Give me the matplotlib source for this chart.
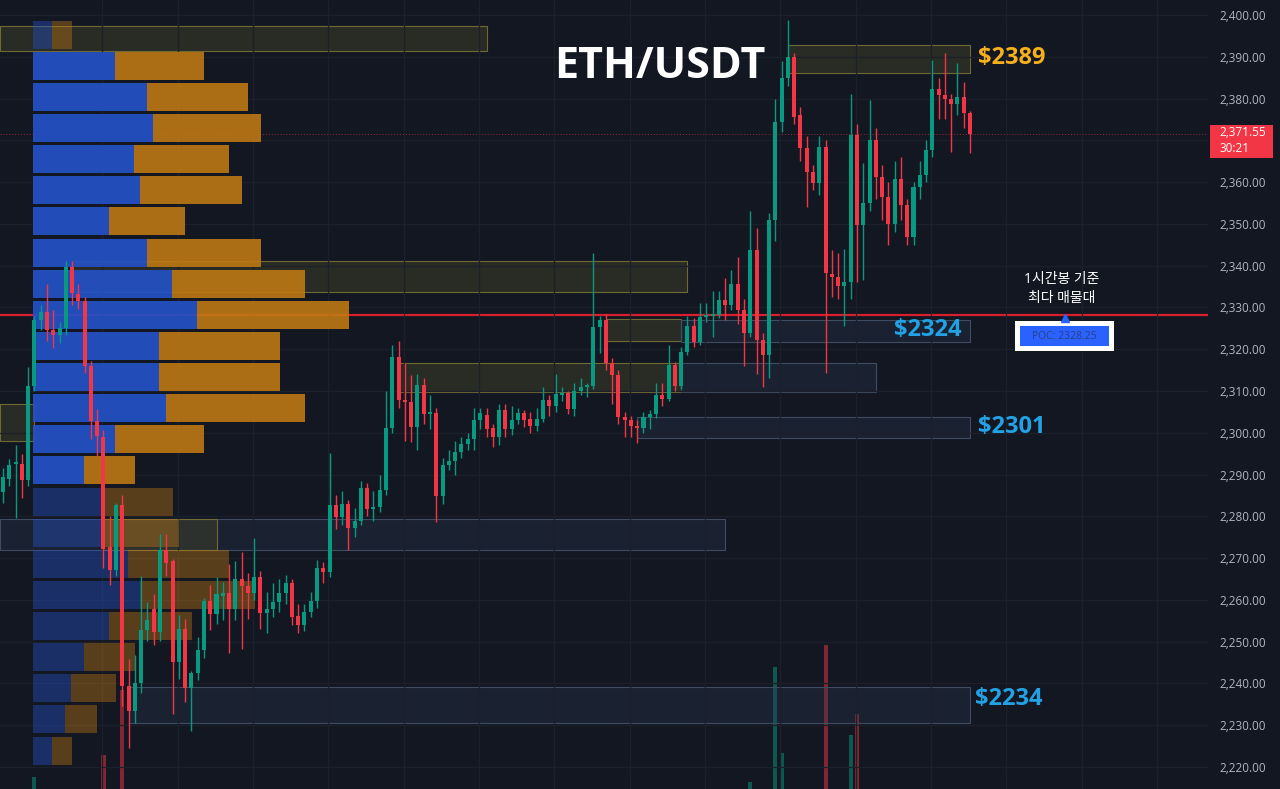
import numpy as np
import matplotlib.pyplot as plt
from matplotlib.patches import Rectangle

plt.rcParams['font.family'] = ['Open Sans', 'Noto Sans CJK KR', 'DejaVu Sans']

# 1h candles, ETH/USDT
opens = [2285.8, 2289.0, 2292.5, 2292.5, 2288.7, 2311.2, 2326.9, 2329.0, 2324.5, 2323.4,
         2325.0, 2339.6, 2333.3, 2331.6, 2315.9, 2302.9, 2299.1, 2272.6, 2267.2, 2282.8,
         2239.3, 2233.4, 2240.0, 2252.9, 2257.9, 2252.4, 2272.0, 2269.2, 2245.1, 2253.0,
         2238.8, 2242.5, 2248.0, 2259.8, 2256.6, 2261.0, 2261.7, 2257.9, 2265.0, 2263.4,
         2261.7, 2265.5, 2256.9, 2257.8, 2259.5, 2261.7, 2264.0, 2256.2, 2254.0, 2257.0,
         2259.7, 2267.6, 2266.7, 2282.7, 2279.8, 2283.0, 2277.2, 2279.0, 2286.8, 2281.8,
         2282.2, 2286.3, 2301.2, 2318.1, 2307.8, 2307.4, 2301.4, 2311.4, 2304.5, 2304.7,
         2284.9, 2292.3, 2293.3, 2295.4, 2297.3, 2298.5, 2303.0, 2304.3, 2301.2, 2299.0,
         2305.5, 2300.9, 2303.0, 2304.7, 2303.3, 2301.6, 2303.3, 2307.8, 2306.4, 2309.0,
         2309.5, 2305.7, 2310.0, 2311.0, 2311.2, 2325.3, 2327.0, 2316.7, 2313.8, 2303.8,
         2303.0, 2301.6, 2301.2, 2303.8, 2304.5, 2309.0, 2308.0, 2316.2, 2311.2, 2319.3,
         2325.6, 2321.7, 2327.7, 2328.0, 2328.2, 2331.8, 2330.6, 2335.5, 2329.4, 2323.9,
         2343.8, 2322.2, 2318.6, 2350.9, 2374.4, 2384.9, 2390.0, 2376.0, 2368.2, 2362.4,
         2359.8, 2368.4, 2338.0, 2337.3, 2335.1, 2336.0, 2371.3, 2349.7, 2355.0, 2370.0,
         2361.2, 2356.4, 2350.0, 2360.7, 2354.5, 2346.9, 2358.8, 2361.7, 2367.7, 2382.3,
         2380.9, 2379.9, 2378.7, 2380.4, 2376.5]
highs = [2291.5, 2293.8, 2297.0, 2295.0, 2315.8, 2327.9, 2330.5, 2335.7, 2329.5, 2326.5,
         2341.0, 2341.0, 2335.7, 2332.6, 2317.2, 2305.6, 2300.6, 2280.0, 2283.2, 2285.2,
         2245.8, 2246.8, 2265.8, 2259.4, 2261.5, 2275.8, 2275.8, 2269.7, 2256.4, 2255.4,
         2243.0, 2251.1, 2260.4, 2263.5, 2265.4, 2264.4, 2268.6, 2269.4, 2271.5, 2266.5,
         2274.8, 2267.0, 2262.0, 2264.0, 2265.0, 2266.0, 2265.0, 2259.0, 2259.0, 2262.0,
         2269.5, 2269.0, 2295.2, 2285.0, 2286.0, 2284.0, 2282.0, 2288.5, 2288.0, 2286.0,
         2290.0, 2310.0, 2321.0, 2322.0, 2316.7, 2313.8, 2314.0, 2313.0, 2309.0, 2306.0,
         2294.0, 2296.0, 2298.0, 2299.0, 2300.0, 2306.0, 2306.0, 2306.0, 2302.0, 2307.0,
         2307.0, 2306.5, 2306.0, 2305.5, 2305.0, 2306.0, 2311.0, 2309.0, 2314.0, 2311.0,
         2310.0, 2312.0, 2313.0, 2312.0, 2343.0, 2328.0, 2328.5, 2318.0, 2315.0, 2305.0,
         2304.0, 2303.0, 2305.0, 2305.5, 2312.0, 2312.0, 2321.0, 2317.0, 2320.5, 2328.0,
         2327.5, 2331.0, 2331.0, 2334.0, 2334.0, 2337.0, 2339.0, 2342.0, 2332.0, 2353.0,
         2349.0, 2324.0, 2352.5, 2380.0, 2389.0, 2398.8, 2391.0, 2378.0, 2371.0, 2364.0,
         2371.0, 2370.0, 2343.8, 2343.0, 2344.0, 2381.0, 2374.0, 2364.6, 2379.7, 2373.0,
         2364.0, 2360.0, 2365.0, 2366.0, 2356.0, 2360.0, 2365.0, 2370.0, 2389.2, 2385.0,
         2391.0, 2381.0, 2388.5, 2384.0, 2377.0]
lows = [2283.3, 2287.3, 2279.5, 2284.3, 2287.3, 2310.0, 2324.5, 2321.9, 2320.3, 2321.4,
        2323.4, 2330.7, 2329.6, 2314.2, 2298.6, 2294.5, 2267.7, 2263.6, 2265.7, 2234.7,
        2224.5, 2230.6, 2237.8, 2250.2, 2249.2, 2250.2, 2265.7, 2232.8, 2241.0, 2235.6,
        2228.6, 2240.9, 2246.1, 2252.7, 2254.3, 2255.3, 2247.2, 2255.3, 2248.2, 2255.5,
        2260.0, 2253.0, 2252.0, 2256.0, 2257.0, 2259.0, 2254.0, 2252.0, 2252.5, 2256.0,
        2258.0, 2264.0, 2265.5, 2277.0, 2278.0, 2272.0, 2275.0, 2278.0, 2280.0, 2279.0,
        2281.0, 2285.0, 2300.0, 2306.0, 2298.0, 2297.8, 2296.0, 2302.0, 2301.0, 2278.6,
        2283.0, 2291.0, 2290.0, 2294.0, 2296.0, 2296.0, 2301.0, 2299.0, 2296.5, 2297.0,
        2299.0, 2299.5, 2302.0, 2301.5, 2300.0, 2300.5, 2302.5, 2304.0, 2305.0, 2307.5,
        2304.5, 2304.0, 2309.0, 2308.5, 2310.5, 2319.0, 2315.0, 2307.0, 2302.0, 2299.0,
        2299.0, 2297.6, 2300.0, 2301.0, 2303.5, 2306.5, 2307.5, 2310.0, 2310.5, 2318.5,
        2320.5, 2321.0, 2326.5, 2323.0, 2327.5, 2327.0, 2329.5, 2326.0, 2316.0, 2323.0,
        2314.0, 2311.0, 2313.0, 2346.0, 2372.0, 2383.0, 2374.0, 2365.0, 2354.0, 2358.0,
        2357.0, 2314.3, 2332.5, 2332.0, 2325.5, 2332.0, 2336.0, 2336.6, 2353.0, 2356.0,
        2351.0, 2345.0, 2348.0, 2351.0, 2345.0, 2345.0, 2356.0, 2360.0, 2366.0, 2375.0,
        2375.0, 2367.2, 2376.0, 2373.0, 2367.0]
closes = [2289.4, 2292.4, 2292.8, 2288.7, 2311.2, 2326.9, 2329.0, 2324.5, 2323.5, 2325.0,
          2339.6, 2333.4, 2331.6, 2315.9, 2302.9, 2299.2, 2272.3, 2267.2, 2282.8, 2239.3,
          2233.4, 2240.0, 2252.9, 2255.3, 2252.4, 2272.0, 2268.9, 2245.1, 2253.0, 2238.8,
          2242.5, 2248.0, 2259.8, 2256.6, 2261.4, 2261.7, 2257.9, 2265.0, 2263.4, 2261.7,
          2265.5, 2256.9, 2257.8, 2259.5, 2261.7, 2264.0, 2255.9, 2254.0, 2257.0, 2259.7,
          2267.6, 2266.7, 2282.7, 2279.8, 2283.0, 2277.2, 2279.0, 2286.8, 2281.8, 2282.2,
          2286.3, 2301.2, 2318.1, 2307.8, 2307.4, 2301.4, 2311.4, 2304.5, 2305.0, 2284.9,
          2292.3, 2293.3, 2295.4, 2297.3, 2298.5, 2303.0, 2304.7, 2300.9, 2299.0, 2305.5,
          2300.9, 2303.0, 2304.7, 2303.0, 2301.6, 2303.3, 2307.8, 2306.4, 2309.3, 2309.5,
          2305.7, 2310.0, 2311.0, 2311.4, 2325.3, 2327.0, 2316.7, 2313.8, 2303.8, 2303.0,
          2301.6, 2301.2, 2303.8, 2304.5, 2309.0, 2308.0, 2316.2, 2311.2, 2319.3, 2325.6,
          2321.7, 2327.7, 2328.2, 2328.3, 2331.8, 2330.6, 2335.5, 2329.4, 2323.9, 2343.8,
          2322.2, 2318.6, 2350.9, 2374.4, 2384.9, 2390.0, 2375.6, 2368.2, 2362.4, 2359.8,
          2368.4, 2338.2, 2337.3, 2335.1, 2336.0, 2371.3, 2349.7, 2355.0, 2370.0, 2361.2,
          2356.4, 2350.0, 2360.7, 2354.5, 2346.9, 2358.8, 2361.7, 2367.7, 2382.3, 2380.9,
          2379.9, 2378.7, 2380.4, 2376.5, 2371.55]

# volume spikes that reach into the visible window
vol_idx = [5, 16, 19, 119, 123, 124, 131, 135, 136]
vol_vals = [21500, 24300, 32500, 20900, 35500, 24600, 38300, 26800, 29500]

# volume profile (buy / sell) from top row to bottom row
poc = 2328.25
poc_row = 9
bin_size = 7.45
buy_vol = [19, 82, 114, 120, 101, 107, 76, 114, 139, 164, 126, 126, 133, 82, 51,
           68, 68, 95, 107, 76, 51, 38, 32, 19]
sell_vol = [20, 89, 101, 108, 95, 102, 76, 114, 133, 152, 121, 121, 139, 89, 51,
            72, 78, 101, 115, 83, 51, 45, 32, 20]
value_area = [False] + [True] * 14 + [False] * 9

# supply / demand zones: start, end (bar index), low, high, kind
zone_x0 = [-0.5, 125, 11, 63, 108, 96, 108, 101, -0.5, 16, 20, -0.5]
zone_x1 = [77, 154, 109, 108, 139, 108, 154, 154, 115, 34, 154, 5]
zone_lo = [2391.4, 2386.1, 2333.7, 2309.8, 2309.8, 2322.0, 2321.7, 2298.8, 2272.0, 2272.0, 2230.5, 2298.0]
zone_hi = [2397.4, 2392.8, 2341.1, 2316.7, 2316.7, 2327.3, 2327.0, 2303.8, 2279.4, 2279.4, 2239.2, 2306.9]
zone_kind = ['s', 's', 's', 's', 'd', 's', 'd', 'd', 'd', 's', 'd', 's']

last_price = 2371.55

BG = '#131722'
UP = '#089981'
DOWN = '#f23645'

fig = plt.figure(figsize=(12.8, 7.89), dpi=100, facecolor=BG)
ax2 = fig.add_axes([0, 0, 1208 / 1280, 1])
ax = fig.add_axes([0, 0, 1208 / 1280, 1], sharex=ax2)
ax2.set_facecolor(BG)
ax.patch.set_visible(False)

n = len(opens)
x = np.arange(n)
o = np.array(opens)
c = np.array(closes)
cols = [UP if cc >= oo else DOWN for oo, cc in zip(o, c)]

# volume
vcols = [UP if closes[i] >= opens[i] else DOWN for i in vol_idx]
ax2.bar(vol_idx, vol_vals, width=0.65, color=vcols, alpha=0.5)
ax2.set_ylim(20000, 120000)
ax2.set_yticks([])
for s in ax2.spines.values():
    s.set_visible(False)

ax.set_xlim(-0.48, 191.9)
ax.set_ylim(2214.74, 2403.59)

# grid + price scale (2,370 is hidden behind the last price tag)
ticks = np.arange(2220, 2401, 10)
ax.set_yticks(ticks)
ax.set_yticklabels(['' if v == 2370 else f'{v:,.2f}' for v in ticks])
ax.set_xticks(np.arange(15.8, 192, 12))
ax.set_xticklabels([])
ax.grid(True, color='#1c202b', lw=0.9)
ax.yaxis.tick_right()
ax.tick_params(axis='y', length=0, pad=8, labelsize=8.5, labelcolor='#b2b5be')
ax.tick_params(axis='x', length=0)
for s in ax.spines.values():
    s.set_visible(False)

# zones
for x0, x1, lo, hi, k in zip(zone_x0, zone_x1, zone_lo, zone_hi, zone_kind):
    if k == 's':
        fc, ec, a = '#4c4a2a', '#6f6a34', 0.4
    else:
        fc, ec, a = '#2c3a52', '#3f4d63', 0.3
    ax.add_patch(Rectangle((x0, lo), x1 - x0, hi - lo, facecolor=fc, alpha=a,
                           edgecolor='none', zorder=1))
    ax.add_patch(Rectangle((x0, lo), x1 - x0, hi - lo, facecolor='none',
                           edgecolor=ec, lw=0.8, zorder=1.1))

# POC and last price lines
ax.axhline(poc, color='#d81f2e', lw=1.6, zorder=1.5)
ax.axhline(last_price, color=DOWN, lw=0.7, ls=(0, (1, 2)), alpha=0.6, zorder=1.5)

# volume profile on the left edge
yt = ax.get_yaxis_transform()
px = 1 / 1208
left = 33 * px
for k in range(len(buy_vol)):
    yc = poc + (poc_row - k) * bin_size
    a = 0.92 if value_area[k] else 0.42
    ax.barh(yc, buy_vol[k] * px, left=left, height=bin_size * 0.9,
            color='#2451c6', alpha=a, transform=yt, zorder=2)
    ax.barh(yc, sell_vol[k] * px, left=left + buy_vol[k] * px, height=bin_size * 0.9,
            color='#c27b12', alpha=a * 0.95, transform=yt, zorder=2)

# candles
ax.vlines(x, lows, highs, colors=cols, lw=1.0, zorder=3)
body = np.maximum(np.abs(c - o), 0.4)
ax.bar(x, body, bottom=np.minimum(o, c), width=0.64, color=cols, zorder=3.1)

# zone labels
ax.text(155.2, 2389.6, '$2389', color='#f5b01c', fontsize=17, weight='bold',
        va='center', ha='left', zorder=5)
ax.text(152.6, 2324.6, '$2324', color='#22a2e4', fontsize=17, weight='bold',
        va='center', ha='right', zorder=5)
ax.text(155.2, 2301.4, '$2301', color='#22a2e4', fontsize=17, weight='bold',
        va='center', ha='left', zorder=5)
ax.text(154.8, 2236.3, '$2234', color='#22a2e4', fontsize=17, weight='bold',
        va='center', ha='left', zorder=5)


def fx(p):
    return p / 1280


def fy(p):
    return 1 - p / 789


fig.text(fx(660), fy(67), 'ETH/USDT', color='white', fontsize=31, weight='bold',
         ha='center', va='center')

fig.text(fx(1062), fy(289), '1시간봉 기준\n최다 매물대', color='white', fontsize=10,
         ha='center', va='center', linespacing=1.35, weight='medium')

# POC tag
fig.patches.append(Rectangle((fx(1015), fy(351)), fx(99), 30 / 789, transform=fig.transFigure,
                             facecolor='white', edgecolor='none'))
fig.patches.append(Rectangle((fx(1020), fy(346)), fx(89), 20 / 789, transform=fig.transFigure,
                             facecolor='#2962ff', edgecolor='none'))
fig.text(fx(1064.5), fy(336.5), f'POC: {poc:.2f}', color='#2a3f86', fontsize=7.5,
         ha='center', va='center')
fig.lines.append(plt.Line2D([fx(1065)], [fy(318)], marker='^', markersize=6,
                            color='#2962ff', transform=fig.transFigure))

# last price tag
fig.patches.append(Rectangle((fx(1210), fy(158)), fx(63), 33 / 789, transform=fig.transFigure,
                             facecolor=DOWN, edgecolor='none'))
fig.text(fx(1219), fy(133), f'{last_price:,.2f}', color='white', fontsize=8.5,
         ha='left', va='center')
fig.text(fx(1219), fy(149), '30:21', color='white', fontsize=8.5,
         ha='left', va='center')

fig.savefig('out.png', dpi=100, facecolor=BG)
